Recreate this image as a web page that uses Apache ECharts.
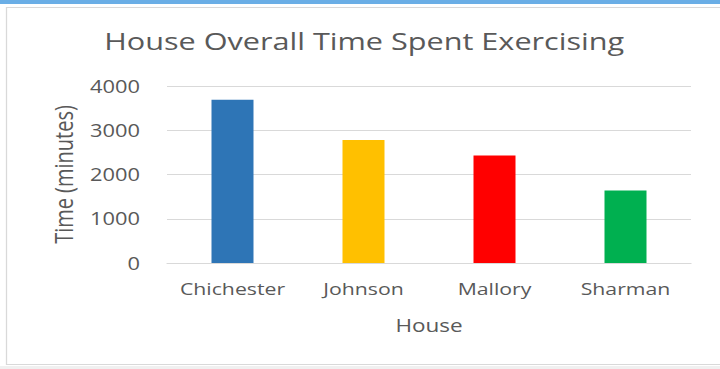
<!DOCTYPE html>
<html><head><meta charset="utf-8">
<script src="https://cdn.jsdelivr.net/npm/echarts@6/dist/echarts.min.js"></script>
<style>
html,body{margin:0;padding:0;background:#fff;overflow:hidden}
#wrap{width:720px;height:369px;overflow:hidden}
#c{width:576px;height:369px;transform:scaleX(1.25);transform-origin:0 0}
</style>
</head><body><div id="wrap"><div id="c"></div></div>
<script>
const categories = ['Chichester', 'Johnson', 'Mallory', 'Sharman'];
const values = [3690, 2780, 2430, 1640];
const barColors = ['#2E75B6', '#FFC000', '#FF0000', '#00B050'];
const yTicks = [0, 1000, 2000, 3000, 4000];

const chart = echarts.init(document.getElementById('c'), null, {renderer: 'svg'});
const font = '"Open Sans", "DejaVu Sans", sans-serif';
const grey = '#595959';
chart.setOption({
  backgroundColor: '#ffffff',
  animation: false,
  title: {
    text: 'House Overall Time Spent Exercising',
    left: 78.4, top: 23,
    textStyle: {fontFamily: font, fontSize: 24.5, fontWeight: 'normal', color: grey}
  },
  graphic: [
    {type: 'rect', shape: {x: 0, y: 0, width: 576, height: 4}, style: {fill: '#6AAEE6'}, silent: true},
    {type: 'rect', shape: {x: 5.2, y: 7.5, width: 600, height: 357}, style: {fill: 'none', stroke: '#D9D9D9', lineWidth: 1}, silent: true},
    {type: 'rect', shape: {x: 0, y: 366, width: 576, height: 3}, style: {fill: '#F0F0F0'}, silent: true}
  ],
  grid: {left: 133.6, right: 23.2, top: 86, bottom: 106},
  xAxis: {
    type: 'category', data: categories,
    name: 'House', nameLocation: 'middle', nameGap: 53,
    nameTextStyle: {fontFamily: font, fontSize: 18, color: grey},
    axisLine: {lineStyle: {color: '#D9D9D9'}},
    axisTick: {show: false},
    axisLabel: {interval: 0, fontFamily: font, fontSize: 17, color: grey, margin: 17}
  },
  yAxis: {
    type: 'value', min: yTicks[0], max: yTicks[yTicks.length - 1], interval: 1000,
    name: 'Time (minutes)', nameLocation: 'middle', nameGap: 72,
    nameTextStyle: {fontFamily: font, fontSize: 20, color: grey},
    axisLine: {show: false}, axisTick: {show: false},
    splitLine: {lineStyle: {color: '#D9D9D9'}},
    axisLabel: {fontFamily: font, fontSize: 17.5, color: grey, margin: 21.6, formatter: v => String(v)}
  },
  series: [{
    type: 'bar', barWidth: 33.6,
    data: values.map((v, i) => ({value: v, itemStyle: {color: barColors[i]}}))
  }]
});
</script></body></html>
